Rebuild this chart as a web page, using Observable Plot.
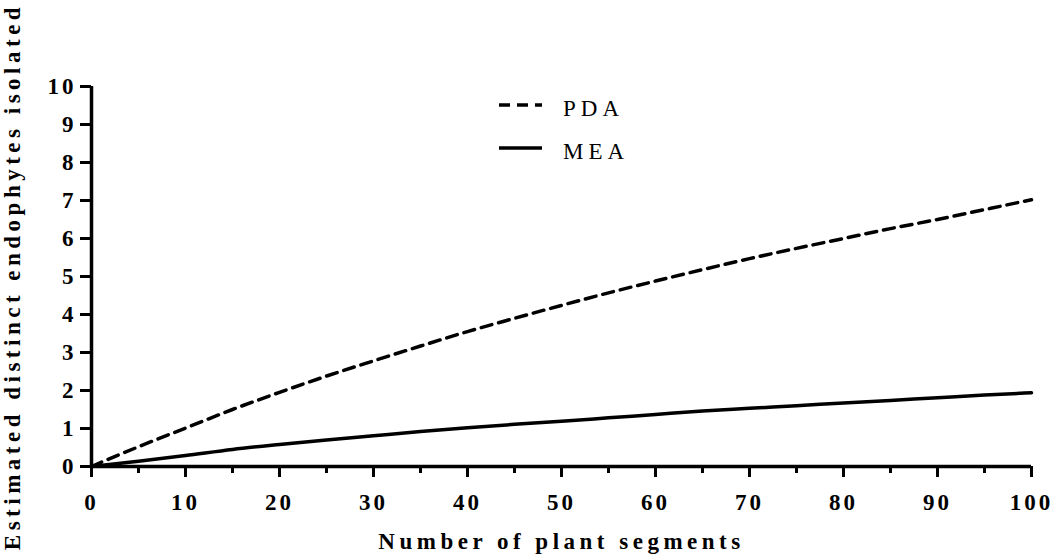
<!DOCTYPE html>
<html><head><meta charset="utf-8">
<script src="https://cdn.jsdelivr.net/npm/d3@7"></script>
<script src="https://cdn.jsdelivr.net/npm/@observablehq/plot@0.6"></script>
<style>
body{margin:0;background:#fff;}
#chart{width:1055px;height:555px;}
</style></head><body><div id="chart"></div>
<script>
const segments = [0,5,10,15,20,25,30,35,40,45,50,55,60,65,70,75,80,85,90,95,100];
const pdaValues = [0,0.52,1.01,1.5,1.95,2.38,2.78,3.17,3.55,3.9,4.24,4.57,4.88,5.18,5.47,5.74,6.0,6.26,6.5,6.76,7.02];
const meaValues = [0,0.14,0.29,0.45,0.58,0.70,0.81,0.92,1.02,1.11,1.19,1.28,1.37,1.46,1.53,1.60,1.67,1.74,1.81,1.88,1.94];
const majorTicks = [0,10,20,30,40,50,60,70,80,90,100];
const minorTicks = [5,15,25,35,45,55,65,75,85,95];
const yTicks = [0,1,2,3,4,5,6,7,8,9,10];
const seriesNames = ["PDA","MEA"];
const seriesDash = {PDA:"11,7", MEA:null};
const xTitle = "Number of plant segments";
const yTitle = "Estimated distinct endophytes isolated";

const pdaRows = segments.map((s,i)=>({segments:s, value:pdaValues[i], series:"PDA"}));
const meaRows = segments.map((s,i)=>({segments:s, value:meaValues[i], series:"MEA"}));

const plot = Plot.plot({
  width:1055, height:555,
  marginLeft:91, marginRight:24, marginTop:86, marginBottom:89,
  style:{fontFamily:"'Liberation Serif','Times New Roman',serif", fontSize:"23px", fontWeight:"bold", color:"#000", background:"#fff", letterSpacing:"3px", overflow:"visible"},
  x:{domain:[0,100]},
  y:{domain:[0,10]},
  marks:[
    Plot.axisX({ticks:majorTicks, tickSize:11, tickPadding:16, strokeWidth:3, label:xTitle, labelAnchor:"center", labelArrow:"none", labelOffset:82}),
    Plot.axisX({ticks:minorTicks, tickSize:7, strokeWidth:3, text:null, label:null}),
    Plot.axisY({ticks:yTicks, tickSize:11, tickPadding:4, strokeWidth:3, label:yTitle, labelAnchor:"center", labelArrow:"none", labelOffset:88}),
    Plot.ruleY([0], {strokeWidth:3.5}),
    Plot.ruleX([0], {strokeWidth:3.5}),
    Plot.line(meaRows, {x:"segments", y:"value", stroke:"#000", strokeWidth:3.5, curve:"monotone-x"}),
    Plot.line(pdaRows, {x:"segments", y:"value", stroke:"#000", strokeWidth:3.5, curve:"monotone-x", strokeDasharray:seriesDash.PDA})
  ]
});
document.getElementById("chart").appendChild(plot);

const svg = d3.select(plot);
svg.selectAll('g[aria-label="x-axis label"], g[aria-label="y-axis label"]').style("letter-spacing","4.5px");

// legend
const legend = svg.append("g").attr("class","legend")
  .attr("text-anchor","start")
  .style("font-family","'Liberation Serif','Times New Roman',serif")
  .style("font-weight","normal").style("font-size","23px").style("letter-spacing","5px");
seriesNames.forEach((name,i)=>{
  const y = 105 + i*43;
  legend.append("line").attr("x1",499).attr("x2",542).attr("y1",y).attr("y2",y)
    .attr("stroke","#000").attr("stroke-width",3.5)
    .attr("stroke-dasharray", seriesDash[name]);
  legend.append("text").attr("x",563).attr("y",y+11).attr("fill","#000").attr("text-anchor","start").text(name);
});
</script></body></html>
